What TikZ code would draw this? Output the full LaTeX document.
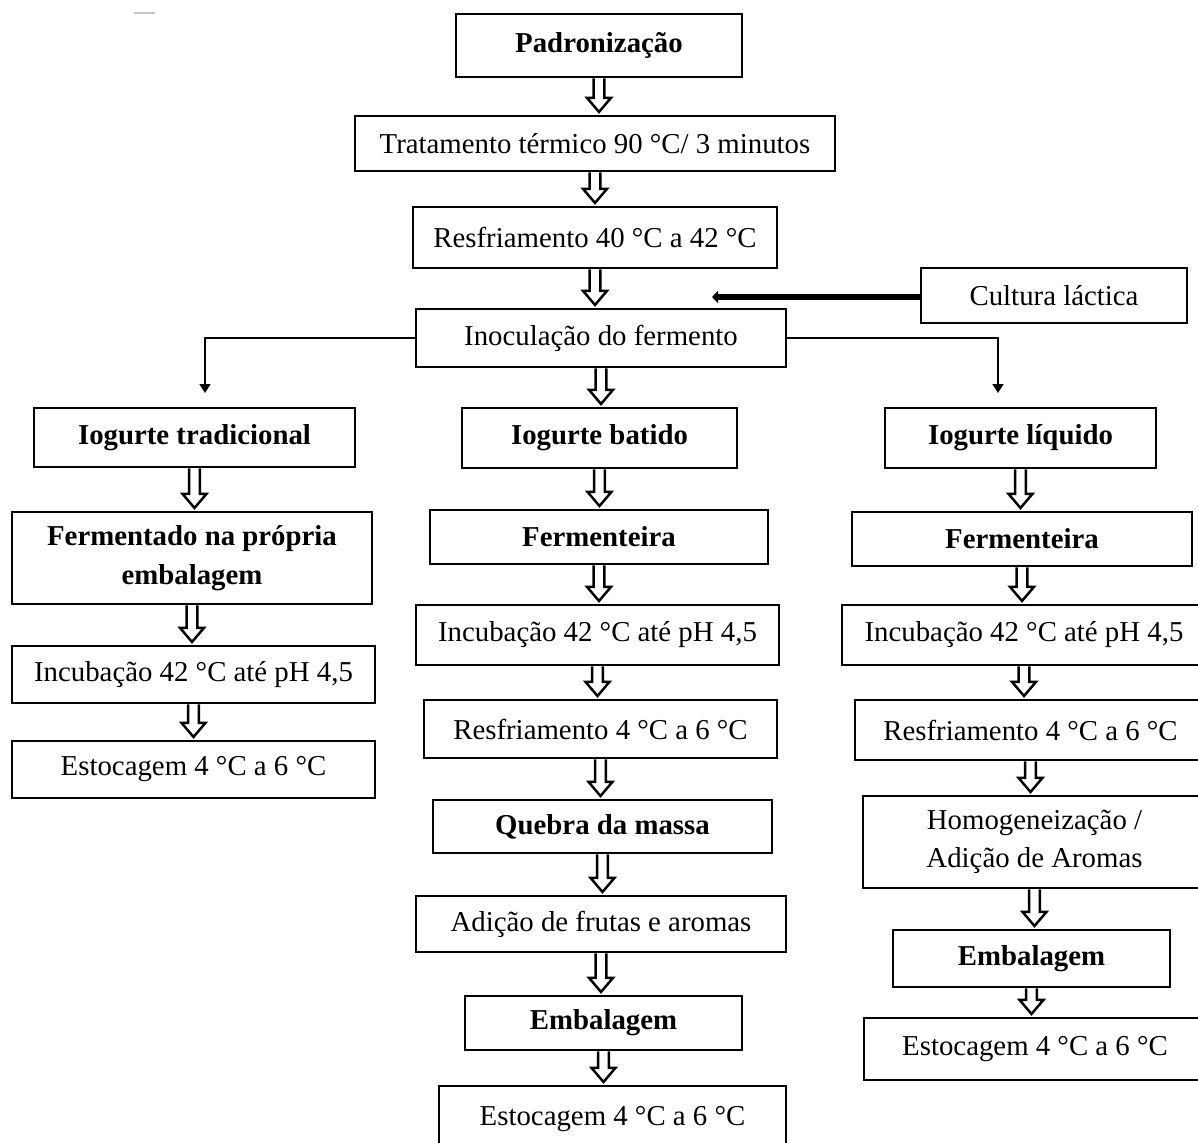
\documentclass[tikz,border=0pt]{standalone}
\usepackage{fontspec}
\setmainfont{Liberation Serif}
\usetikzlibrary{calc,arrows.meta}

\begin{document}
\begin{tikzpicture}[x=0.02cm,y=-0.02cm,
		box/.style={draw,line width=1.6pt,inner sep=0pt,align=center,font=\fontsize{16.4}{22}\selectfont},
		wh/.style 2 args={minimum width=#1*0.569pt,minimum height=#2*0.569pt},
		hollow/.style={line width=1.4pt,line join=miter,to path={let \p1=(\tikztostart),\p2=(\tikztotarget) in ({\x1-3.1pt},\y1) -- ({\x1-3.1pt},{\y2+9.5pt}) -- ({\x1-6.8pt},{\y2+9.5pt}) -- (\x1,{\y2+1.5pt}) -- ({\x1+6.8pt},{\y2+9.5pt}) -- ({\x1+3.1pt},{\y2+9.5pt}) -- ({\x1+3.1pt},\y1)}},
		branch/.style={line width=1.2pt,-{Triangle[width=6pt,length=5pt]}},
		feed/.style={line width=3.2pt,-{Triangle[width=7pt,length=3.5pt]}}]
		\useasboundingbox (0,0) rectangle (1198,1143);
		\clip (0,0) rectangle (1198,1143);
		\draw[gray!45,line width=1pt] (134,13) -- (155,13);
		\node[box,wh={286}{63}] (padr) at (599,45.5) {\textbf{Padronização}};
		\node[box,wh={480}{55}] (trat) at (595,143.5) {Tratamento térmico 90 °C/ 3 minutos};
		\node[box,wh={364}{61}] (resf) at (595,237.5) {Resfriamento 40 °C a 42 °C};
		\node[box,wh={266}{55}] (cult) at (1054,295.5) {Cultura láctica};
		\node[box,wh={370}{58}] (inoc) at (601,338) {Inoculação do fermento};
		\node[box,wh={321}{59}] (trad) at (194.5,437.5) {\textbf{Iogurte tradicional}};
		\node[box,wh={275}{60}] (bat) at (599.5,438) {\textbf{Iogurte batido}};
		\node[box,wh={271}{60}] (liq) at (1020.5,438) {\textbf{Iogurte líquido}};
		\node[box,wh={360}{92}] (lferm) at (192,558) {\textbf{Fermentado na própria}\\\textbf{embalagem}};
		\node[box,wh={363}{57}] (linc) at (193.5,674.5) {Incubação 42 °C até pH 4,5};
		\node[box,wh={363}{57}] (lest) at (193.5,769.5) {Estocagem 4 °C a 6 °C};
		\node[box,wh={338}{54}] (mferm) at (599,537) {\textbf{Fermenteira}};
		\node[box,wh={363}{60}] (minc) at (597.5,635) {Incubação 42 °C até pH 4,5};
		\node[box,wh={353}{58}] (mres) at (600.5,729) {Resfriamento 4 °C a 6 °C};
		\node[box,wh={339}{53}] (mque) at (602.5,826.5) {\textbf{Quebra da massa}};
		\node[box,wh={370}{56}] (madi) at (601,924) {Adição de frutas e aromas};
		\node[box,wh={277}{54}] (memb) at (603.5,1023) {\textbf{Embalagem}};
		\node[box,wh={347}{66}] (mest) at (612.5,1119) {Estocagem 4 °C a 6 °C};
		\node[box,wh={340}{54}] (rferm) at (1022,539) {\textbf{Fermenteira}};
		\node[box,wh={364}{60}] (rinc) at (1024,635) {Incubação 42 °C até pH 4,5};
		\node[box,wh={351}{60}] (rres) at (1030.5,730) {Resfriamento 4 °C a 6 °C};
		\node[box,wh={343}{92}] (rhom) at (1034.5,842) {Homogeneização /\\Adição de Aromas};
		\node[box,wh={277}{57}] (remb) at (1031.5,958.5) {\textbf{Embalagem}};
		\node[box,wh={342}{62}] (rest) at (1035,1049) {Estocagem 4 °C a 6 °C};
		\coordinate (feedtip) at (712,297);
		\coordinate (ltip) at (205,393);
		\coordinate (rtip) at (998,393);
		\draw[feed] (cult.west |- feedtip) -- (feedtip);
		\draw[branch] (inoc.west) -| (ltip);
		\draw[branch] (inoc.east) -| (rtip);
		\draw[hollow] (padr.south) to (trat.north);
		\draw[hollow] (trat.south) to (resf.north);
		\draw[hollow] (resf.south) to (inoc.north);
		\draw[hollow] (inoc.south) to (bat.north);
		\draw[hollow] (trad.south) to (lferm.north);
		\draw[hollow] (lferm.south) to (linc.north);
		\draw[hollow] (linc.south) to (lest.north);
		\draw[hollow] (bat.south) to (mferm.north);
		\draw[hollow] (mferm.south) to (minc.north);
		\draw[hollow] (minc.south) to (mres.north);
		\draw[hollow] (mres.south) to (mque.north);
		\draw[hollow] (mque.south) to (madi.north);
		\draw[hollow] (madi.south) to (memb.north);
		\draw[hollow] (memb.south) to (mest.north);
		\draw[hollow] (liq.south) to (rferm.north);
		\draw[hollow] (rferm.south) to (rinc.north);
		\draw[hollow] (rinc.south) to (rres.north);
		\draw[hollow] (rres.south) to (rhom.north);
		\draw[hollow] (rhom.south) to (remb.north);
		\draw[hollow] (remb.south) to (rest.north);
	\end{tikzpicture}
\end{document}
